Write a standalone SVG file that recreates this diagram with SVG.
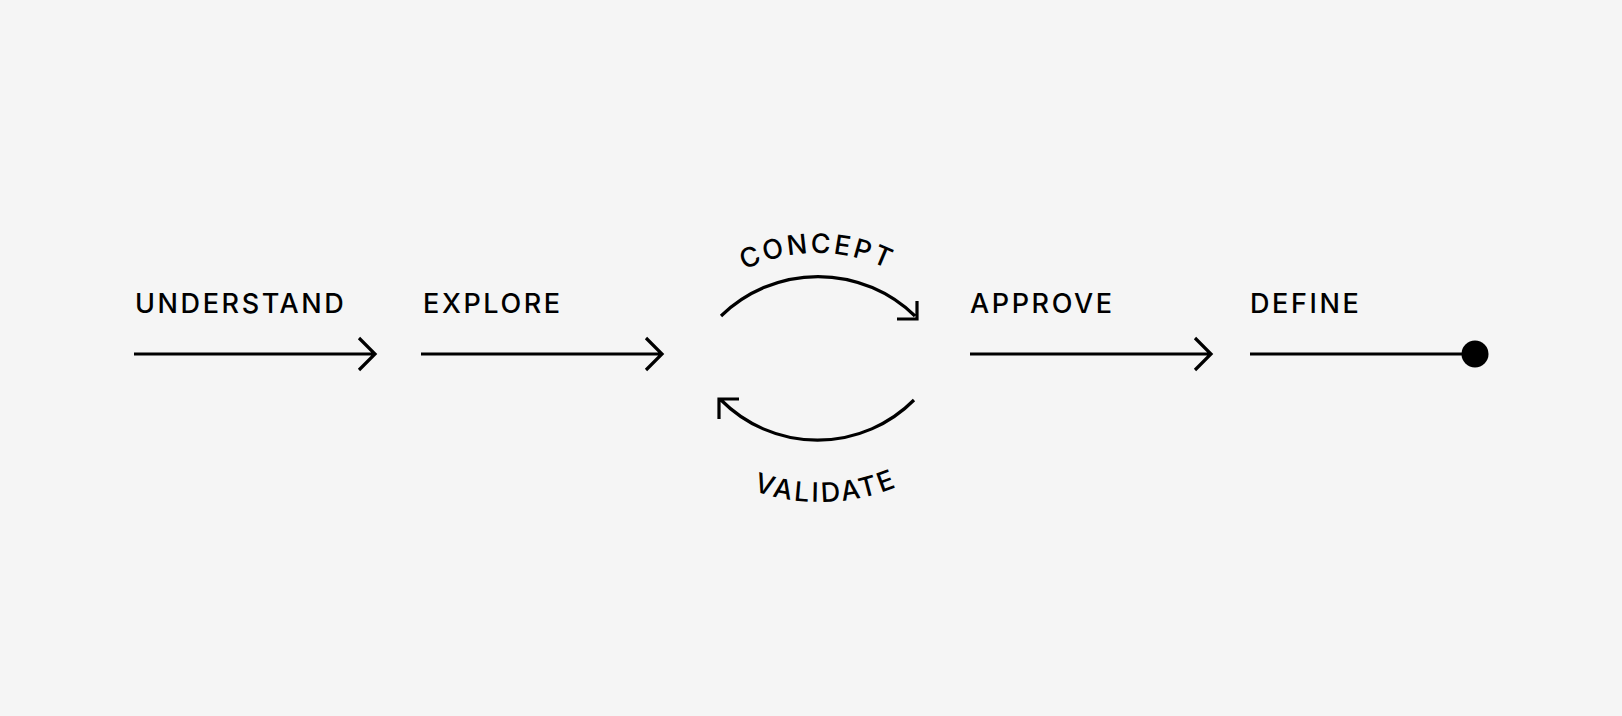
<svg xmlns="http://www.w3.org/2000/svg" width="1622" height="716" viewBox="0 0 1622 716">
<style>
.t{font-family:Inter,"Liberation Sans",sans-serif;font-size:27px;font-weight:500;fill:#000;letter-spacing:2.6px}
.l{stroke:#000;stroke-width:3.2;fill:none}
</style>
<defs>
<path id="cp" d="M654,416 A163,163 0 0 1 980,416"/>
<path id="vp" d="M618,300 A202,202 0 0 0 1022,300"/>
</defs>
<rect width="1622" height="716" fill="#f5f5f5"/>
<g id="understand"><text class="t" x="135" y="313">UNDERSTAND</text></g>
<g id="explore"><text class="t" x="423" y="313">EXPLORE</text></g>
<g id="concept"><text class="t"><textPath href="#cp" startOffset="50%" text-anchor="middle">CONCEPT</textPath></text></g>
<g id="validate"><text class="t"><textPath href="#vp" startOffset="51%" text-anchor="middle">VALIDATE</textPath></text></g>
<g id="approve"><text class="t" x="970" y="313">APPROVE</text></g>
<g id="define"><text class="t" x="1250" y="313">DEFINE</text><circle cx="1475" cy="354" r="13.5" fill="#000"/></g>
<g id="connectors" class="l">
<path d="M134,354H375M359,338L375,354L359,370"/>
<path d="M421,354H662M646,338L662,354L646,370"/>
<path d="M970,354H1211M1195,338L1211,354L1195,370"/>
<path d="M1250,354H1475"/>
<path d="M721,316 A139,139 0 0 1 915,316M897,319H917V301"/>
<path d="M914,400 A136,136 0 0 1 721,400M739,399H719V419"/>
</g>
</svg>
